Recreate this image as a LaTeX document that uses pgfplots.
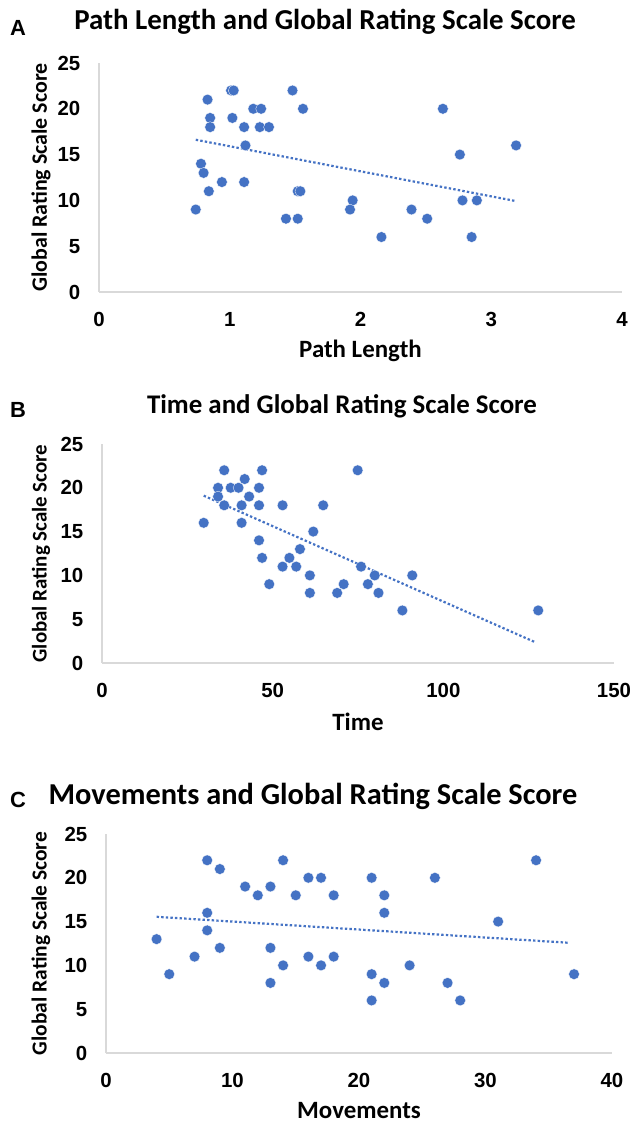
\documentclass[border=0pt]{standalone}
\usepackage{fontspec}
\setmainfont{Carlito}
\newfontfamily\arial{Liberation Sans}
\usepackage{pgfplots}
\pgfplotsset{compat=1.18}
\definecolor{dot}{HTML}{4472C4}
\definecolor{axgray}{HTML}{D9D9D9}

\pgfplotstableread{
x y
0.74 9
0.83 21
1.01 22
1.03 22
0.85 19
0.85 18
1.02 19
1.11 18
1.18 20
1.24 20
1.23 18
1.30 18
1.48 22
1.56 20
1.12 16
0.78 14
0.80 13
0.94 12
1.11 12
0.84 11
1.52 11
1.54 11
1.94 10
1.92 9
1.43 8
1.52 8
2.16 6
2.39 9
2.51 8
2.63 20
2.76 15
2.78 10
2.89 10
2.85 6
3.19 16
}\dataA

\pgfplotstableread{
x y
35.8 22
46.9 22
74.9 22
41.8 21
34.0 20
37.7 20
40.0 20
46.0 20
34.0 19
43.1 19
35.8 18
40.9 18
46.0 18
52.9 18
64.8 18
29.8 16
40.9 16
61.9 15
46.0 14
58.0 13
46.9 12
54.9 12
52.9 11
56.9 11
75.9 11
60.9 10
79.9 10
90.9 10
49.0 9
70.8 9
77.9 9
60.9 8
68.9 8
81.0 8
88.0 6
127.8 6
}\dataB

\pgfplotstableread{
x y
8 22
14 22
34 22
9 21
16 20
17 20
21 20
26 20
11 19
13 19
12 18
15 18
18 18
22 18
8 16
22 16
31 15
8 14
4 13
9 12
13 12
7 11
16 11
18 11
14 10
17 10
24 10
5 9
21 9
37 9
13 8
22 8
27 8
21 6
28 6
}\dataC

\newcommand{\tickfont}{\arial\bfseries\fontsize{20.5}{24}\selectfont}

\pgfplotsset{
 panel/.style={
  scale only axis, clip=false,
  axis x line*=bottom, axis y line*=left,
  axis line style={-, draw=axgray, line width=1.3bp},
  major tick length=0pt,
  tick style={draw=none},
  ymin=0, ymax=25, ytick={0,5,...,25},
  /pgf/number format/assume math mode=true,
  xticklabel={\tickfont\pgfmathprintnumber{\tick}},
  yticklabel={\tickfont\pgfmathprintnumber{\tick}},
  tick label style={inner sep=0pt},
  yticklabel style={anchor=east, xshift=-18.5bp},
  xticklabel style={anchor=center, yshift=-27bp},
  every axis x label/.style={at={(rel axis cs:0.5,0)}, anchor=center, yshift=-59bp, font=\bfseries\fontsize{25}{29}\selectfont},
  every axis y label/.style={at={(rel axis cs:0,0.5)}, rotate=90, anchor=center, font=\bfseries\fontsize{22}{26}\selectfont},
 },
 pts/.style={only marks, mark=*, mark size=5.4bp, mark options={fill=dot, draw=white, line width=0.3bp}},
 trend/.style={dot, line width=2.2bp, dash pattern=on 2.4bp off 2.2bp, no marks},
}

\begin{document}
\begin{tikzpicture}
\useasboundingbox (0,0) rectangle (634bp,1123bp);

% Panel A
\node[font=\arial\bfseries\fontsize{22}{26}\selectfont] at (18bp,1095bp) {A};
\node[font=\bfseries\fontsize{29}{33}\selectfont] at (325bp,1101bp) {Path Length and Global Rating Scale Score};
\begin{axis}[panel, at={(99bp,831bp)}, anchor=south west, width=523bp, height=229bp,
  xmin=0, xmax=4, xtick={0,1,2,3,4},
  xlabel={Path Length}, ylabel={Global Rating Scale Score},
  ylabel style={yshift=58bp}]
\addplot[pts] table[x=x,y=y] {\dataA};
\addplot[trend] coordinates {(0.74,16.62) (3.19,9.92)};
\end{axis}

% Panel B
\node[font=\arial\bfseries\fontsize{22}{26}\selectfont] at (18bp,713bp) {B};
\node[font=\bfseries\fontsize{27}{31}\selectfont] at (342bp,717bp) {Time and Global Rating Scale Score};
\begin{axis}[panel, at={(102bp,460bp)}, anchor=south west, width=512bp, height=219bp,
  xmin=0, xmax=150, xtick={0,50,100,150},
  xlabel={Time}, ylabel={Global Rating Scale Score},
  ylabel style={yshift=61bp, font=\bfseries\fontsize{21}{25}\selectfont}]
\addplot[pts] table[x=x,y=y] {\dataB};
\addplot[trend] coordinates {(29.8,19.1) (127.1,2.34)};
\end{axis}

% Panel C
\node[font=\arial\bfseries\fontsize{22}{26}\selectfont] at (18bp,323bp) {C};
\node[font=\bfseries\fontsize{30.5}{35}\selectfont] at (313bp,327bp) {Movements and Global Rating Scale Score};
\begin{axis}[panel, at={(106bp,70bp)}, anchor=south west, width=506bp, height=219bp,
  xmin=0, xmax=40, xtick={0,10,20,30,40},
  xlabel={Movements}, ylabel={Global Rating Scale Score},
  xlabel style={yshift=1bp},
  ylabel style={yshift=65bp, font=\bfseries\fontsize{21.5}{25}\selectfont}]
\addplot[pts] table[x=x,y=y] {\dataC};
\addplot[trend] coordinates {(4,15.55) (36.5,12.59)};
\end{axis}
\end{tikzpicture}
\end{document}
